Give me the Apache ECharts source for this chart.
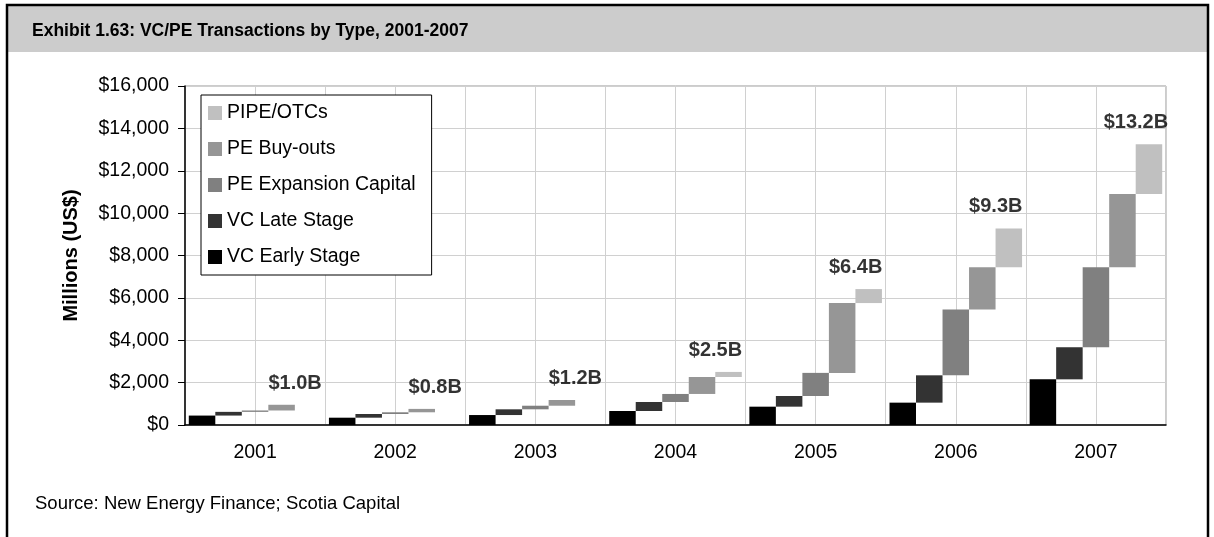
<!DOCTYPE html>
<html>
<head>
<meta charset="utf-8">
<script src="https://cdn.jsdelivr.net/npm/echarts@6/dist/echarts.min.js"></script>
<style>
html, body { margin: 0; padding: 0; background: #fff; }
#main { width: 1214px; height: 537px; }
</style>
</head>
<body>
<div id="main"></div>
<script>
// values in millions of US$
var years = ['2001', '2002', '2003', '2004', '2005', '2006', '2007'];
var vcEarly = [445, 345, 470, 660, 865, 1055, 2155];
var vcLate = [175, 175, 270, 425, 505, 1290, 1515];
var peExpansion = [65, 80, 170, 380, 1090, 3105, 3770];
var peBuyouts = [270, 160, 270, 800, 3295, 2000, 3465];
var pipeOtc = [0, 0, 0, 240, 660, 1830, 2350];
var totalLabels = ['$1.0B', '$0.8B', '$1.2B', '$2.5B', '$6.4B', '$9.3B', '$13.2B'];
var yTicks = [0, 2000, 4000, 6000, 8000, 10000, 12000, 14000, 16000];

var font = "'Liberation Sans', Arial, sans-serif";
var chart = echarts.init(document.getElementById('main'));

var layers = [
    { name: 'VC Early Stage', data: vcEarly, color: '#000000' },
    { name: 'VC Late Stage', data: vcLate, color: '#333333' },
    { name: 'PE Expansion Capital', data: peExpansion, color: '#808080' },
    { name: 'PE Buy-outs', data: peBuyouts, color: '#969696' },
    { name: 'PIPE/OTCs', data: pipeOtc, color: '#C0C0C0' }
];

// floating bars: each type sits on the running total of the ones before it
var series = [];
var running = years.map(function () { return 0; });
layers.forEach(function (l, k) {
    var base = running.slice();
    series.push({
        name: 'base' + k, type: 'bar', stack: 's' + k, silent: true,
        itemStyle: { color: 'transparent' }, data: base
    });
    series.push({
        name: l.name, type: 'bar', stack: 's' + k,
        itemStyle: { color: l.color }, data: l.data
    });
    running = running.map(function (v, i) { return v + l.data[i]; });
});

series.push({
    type: 'scatter', symbolSize: 1, itemStyle: { color: 'transparent' },
    data: running,
    label: {
        show: true, position: 'top', distance: 11, offset: [40, 0],
        fontFamily: font, fontSize: 20, fontWeight: 'bold', color: '#000',
        formatter: function (p) { return totalLabels[p.dataIndex]; }
    },
    z: 5
});

var option = {
    backgroundColor: '#fff',
    animation: false,
    title: {
        text: 'Exhibit 1.63: VC/PE Transactions by Type, 2001-2007',
        left: 32, top: 22, padding: 0,
        textStyle: { fontFamily: font, fontSize: 17.5, fontWeight: 'bold', color: '#000' }
    },
    legend: {
        orient: 'vertical', left: 201, top: 95,
        data: ['PIPE/OTCs', 'PE Buy-outs', 'PE Expansion Capital', 'VC Late Stage', 'VC Early Stage'],
        icon: 'rect', itemWidth: 14, itemHeight: 14, itemGap: 16,
        padding: [8, 16, 8, 7],
        backgroundColor: '#fff', borderColor: '#000', borderWidth: 1, borderRadius: 0,
        textStyle: { fontFamily: font, fontSize: 19.5, color: '#000' }
    },
    grid: {
        left: 185, right: 48, top: 86, bottom: 112,
        show: true, borderColor: '#999', borderWidth: 1
    },
    xAxis: [{
        type: 'category', data: years,
        axisLine: { lineStyle: { color: '#000', width: 1.5 } },
        axisTick: { length: 6, lineStyle: { color: '#000' } },
        axisLabel: { margin: 18, fontFamily: font, fontSize: 19.5, color: '#000' },
        splitLine: { show: false }
    }, {
        type: 'value', min: 0, max: 14, interval: 1,
        position: 'bottom',
        axisLine: { show: false }, axisTick: { show: false }, axisLabel: { show: false },
        splitLine: { show: true, lineStyle: { color: '#D0D0D0', width: 1 } }
    }],
    yAxis: {
        type: 'value', min: yTicks[0], max: yTicks[yTicks.length - 1], interval: 2000,
        axisLine: { show: true, lineStyle: { color: '#000', width: 1.5 } },
        axisTick: { show: true, length: 7, lineStyle: { color: '#000' } },
        axisLabel: {
            margin: 16, fontFamily: font, fontSize: 19.5, color: '#000',
            formatter: function (v) { return '$' + v.toLocaleString('en-US'); }
        },
        splitLine: { lineStyle: { color: '#D0D0D0', width: 1 } },
        name: 'Millions (US$)', nameLocation: 'middle', nameGap: 104,
        nameTextStyle: { fontFamily: font, fontSize: 20, fontWeight: 'bold', color: '#000' }
    },
    series: series.map(function (s) {
        if (s.type === 'bar') {
            s.barGap = '0%';
            s.barCategoryGap = '5.4%';
        }
        return s;
    }),
    graphic: [{
        type: 'rect', z: -1, silent: true,
        shape: { x: 7, y: 5, width: 1201, height: 47 },
        style: { fill: '#CCCCCC' }
    }, {
        type: 'polyline', silent: true,
        shape: { points: [[7, 537], [7, 5], [1208, 5], [1208, 537]] },
        style: { stroke: '#000', lineWidth: 2.5, fill: null }
    }, {
        type: 'text', left: 35, top: 494,
        style: {
            text: 'Source: New Energy Finance; Scotia Capital',
            font: '18.5px ' + font, fill: '#000'
        }
    }]
};

chart.setOption(option);
</script>
</body>
</html>
